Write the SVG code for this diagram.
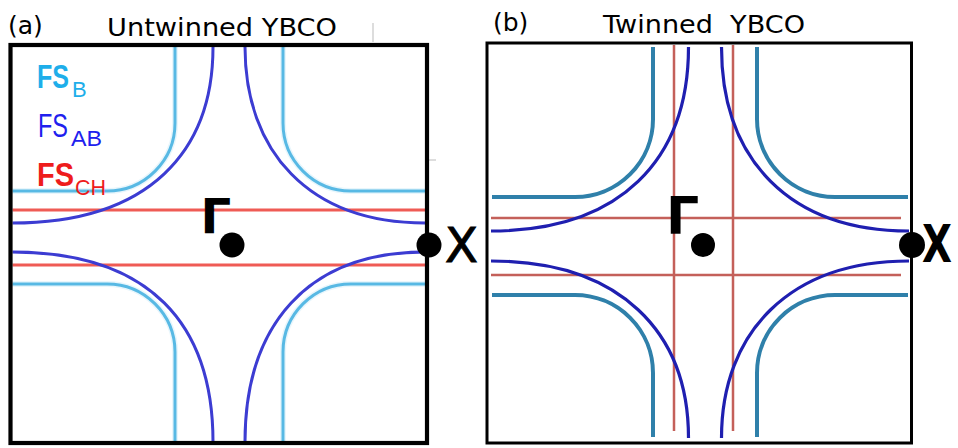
<svg xmlns="http://www.w3.org/2000/svg" width="958" height="448" viewBox="0 0 958 448">
  <style>
    .box { fill: none; stroke: #000; }
    .ln { fill: none; stroke-linecap: butt; }
    .lb { stroke: #58b9e4; stroke-width: 3; }
    .lbh { stroke: #e8f6fc; stroke-width: 6; }
    .db { stroke: #3c3cd2; stroke-width: 3; }
    .ra { stroke: #ef5b55; stroke-width: 3; }
    .tl { stroke: #2f80aa; stroke-width: 4; }
    .nb { stroke: #1f1fb0; stroke-width: 3.2; }
    .rb { stroke: #c4605a; stroke-width: 2.5; }
    .title { font-family: "DejaVu Sans", Verdana, sans-serif; font-size: 25px; fill: #000; white-space: pre; }
    .sym { font-family: "DejaVu Sans", sans-serif; fill: #000; }
    .fs { font-family: "Liberation Sans", Arial, sans-serif; }
    .big { font-size: 33px; }
    .sub { font-size: 22px; font-weight: normal; }
    .dot { fill: #000; }
    .art { stroke: #bbbbbb; stroke-width: 1; }
  </style>
  <defs>
    <clipPath id="clipA"><rect x="12.5" y="47" width="412.5" height="395"/></clipPath>
    <clipPath id="clipB"><rect x="488.5" y="44.5" width="421.5" height="397"/></clipPath>
  </defs>

  <!-- faint scan artifacts -->
  <g id="artifacts">
    <line class="art" x1="373" y1="23" x2="373" y2="42"/>
    <line class="art" x1="429" y1="160" x2="436" y2="160"/>
  </g>

  <!-- Panel (a) -->
  <g id="panel-a">
    <text class="title" x="8" y="33.5">(a)</text>
    <text class="title" x="107" y="36" textLength="230" lengthAdjust="spacingAndGlyphs">Untwinned YBCO</text>

    <g id="a-lines" clip-path="url(#clipA)">
      <g id="a-fsb-halo" class="ln lbh">
        <path d="M175,47 V123 A68,68 0 0 1 107,191 H12"/>
        <path d="M283,47 V123 A68,68 0 0 0 351,191 H425"/>
        <path d="M12,284 H107 A68,68 0 0 1 175,352 V442"/>
        <path d="M425,284 H351 A68,68 0 0 0 283,352 V442"/>
      </g>
      <g id="a-fsch" class="ln ra">
        <path d="M12,210 H425"/>
        <path d="M12,265 H425"/>
      </g>
      <g id="a-fsb" class="ln lb">
        <path d="M175,47 V123 A68,68 0 0 1 107,191 H12"/>
        <path d="M283,47 V123 A68,68 0 0 0 351,191 H425"/>
        <path d="M12,284 H107 A68,68 0 0 1 175,352 V442"/>
        <path d="M425,284 H351 A68,68 0 0 0 283,352 V442"/>
      </g>
      <g id="a-fsab" class="ln db">
        <path d="M213,47 C213,150.5 150,223 12,223"/>
        <path d="M245,47 C245,150.5 308,223 425,223"/>
        <path d="M12,252 C150,252 213,324.5 213,442"/>
        <path d="M425,252 C308,252 245,324.5 245,442"/>
      </g>
    </g>

    <rect class="box" x="10.5" y="45" width="416.5" height="398" stroke-width="4.2"/>

    <g id="a-legend" class="fs">
      <text id="legend-fsb" fill="#1eaeea" font-weight="bold" x="37" y="88"><tspan class="big" textLength="32" lengthAdjust="spacingAndGlyphs">FS</tspan><tspan class="sub" dx="3" dy="9">B</tspan></text>
      <text id="legend-fsab" fill="#2020ee" x="38" y="137"><tspan class="big" textLength="30" lengthAdjust="spacingAndGlyphs">FS</tspan><tspan class="sub" dx="3" dy="9" textLength="31" lengthAdjust="spacingAndGlyphs">AB</tspan></text>
      <text id="legend-fsch" fill="#ee1c1c" font-weight="bold" x="37" y="186"><tspan class="big" textLength="37" lengthAdjust="spacingAndGlyphs">FS</tspan><tspan class="sub" dx="1" dy="9" textLength="31" lengthAdjust="spacingAndGlyphs">CH</tspan></text>
    </g>

    <g id="a-gamma">
      <text class="sym" x="200.5" y="233" font-size="48" font-weight="bold">Γ</text>
      <circle class="dot" cx="232" cy="245" r="12.5"/>
    </g>
    <g id="a-x">
      <circle class="dot" cx="429" cy="245" r="12.5"/>
      <text class="sym" x="445" y="262" font-size="48" stroke="#000" stroke-width="1">X</text>
    </g>
  </g>

  <!-- Panel (b) -->
  <g id="panel-b">
    <text class="title" x="493" y="31">(b)</text>
    <text class="title" x="603" y="33" textLength="202" lengthAdjust="spacingAndGlyphs">Twinned  YBCO</text>

    <g id="b-lines" clip-path="url(#clipB)">
      <g id="b-red" class="ln rb">
        <path d="M674,45 V431"/>
        <path d="M733,45 V431"/>
        <path d="M491,218 H901"/>
        <path d="M491,275 H901"/>
      </g>
      <g id="b-fsb" class="ln tl">
        <path d="M653,47 V119 A78,78 0 0 1 575,197 H492"/>
        <path d="M757,47 V119 A78,78 0 0 0 835,197 H908"/>
        <path d="M492,295 H575 A78,78 0 0 1 653,373 V437"/>
        <path d="M908,295 H835 A78,78 0 0 0 757,373 V437"/>
      </g>
      <g id="b-fsab" class="ln nb">
        <path d="M688.5,47 C688.5,160 620,231 491,231"/>
        <path d="M721.5,47 C721.5,160 790,231 909,231"/>
        <path d="M491,261 C620,261 688.5,332 688.5,438"/>
        <path d="M909,261 C790,261 721.5,332 721.5,438"/>
      </g>
    </g>

    <rect class="box" x="487" y="43" width="424.5" height="400" stroke-width="3"/>

    <g id="b-gamma">
      <text class="sym" x="666" y="233.5" font-size="52" font-weight="bold">Γ</text>
      <circle class="dot" cx="703" cy="245" r="12"/>
    </g>
    <g id="b-x">
      <circle class="dot" cx="912" cy="245" r="13"/>
      <text class="sym" x="922" y="262" font-size="52" font-weight="bold" textLength="30" lengthAdjust="spacingAndGlyphs">X</text>
    </g>
  </g>
</svg>
